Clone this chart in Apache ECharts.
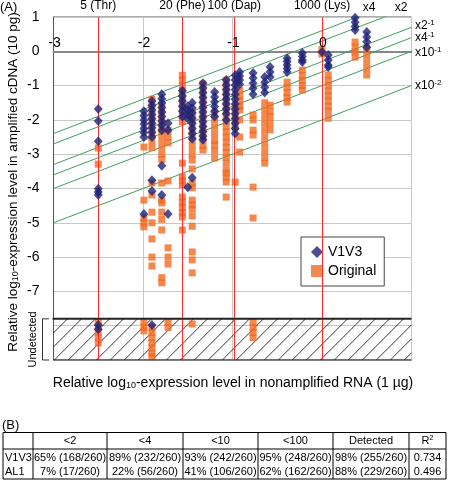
<!DOCTYPE html>
<html><head><meta charset="utf-8">
<script src="https://cdn.jsdelivr.net/npm/echarts@6/dist/echarts.min.js"></script>
<style>html,body{margin:0;padding:0;background:#fff}#c{width:450px;height:481px}</style>
</head><body><div id="c"></div>
<script>
// ---- data ----
const colX = [-2.50,-1.99,-1.90,-1.79,-1.72,-1.56,-1.50,-1.45,-1.33,-1.20,-1.07,-0.97,-0.92,-0.77,-0.64,-0.58,-0.39,-0.22,0.00,0.07,0.37,0.50];
const v1v3Y = [
 [-1.68,-2.03,-2.62,-4.01,-4.10,-4.19,-7.98,-8.10],
 [-1.75,-1.87,-2.0,-2.12,-2.25,-2.37,-2.5,-4.74],
 [-1.45,-1.58,-1.71,-1.84,-1.97,-2.1,-2.23,-2.36,-2.5,-3.76,-4.07,-7.98],
 [-1.25,-1.38,-1.51,-1.64,-1.77,-1.9,-2.03,-2.16,-2.3,-3.34,-4.19],
 [-2.1,-2.3,-4.74],
 [-1.15,-1.3,-1.45,-1.6,-1.75,-1.9],
 [-1.6,-1.72,-1.84,-1.96,-3.96],
 [-1.5,-1.65,-1.8,-1.95,-2.1,-2.25,-2.4,-2.55,-3.69],
 [-0.93,-1.07,-1.21,-1.35,-1.49,-1.63,-1.77,-1.91,-2.05,-2.19,-2.33,-2.47,-2.58],
 [-1.19,-1.33,-1.47,-1.61,-1.75,-1.9],
 [-0.84,-0.98,-1.12,-1.26,-1.4,-1.54,-1.68,-1.82,-2.0],
 [-0.7,-0.84,-0.98,-1.12,-1.26,-1.4,-1.54,-1.68,-1.82,-1.96,-2.1,-2.25,-2.4],
 [-0.6,-0.72,-0.84,-0.96],
 [-0.63,-0.78,-0.93,-1.08,-1.25],
 [-0.75,-0.9,-1.05,-1.2],
 [-0.46,-0.6,-0.75],
 [-0.2,-0.3,-0.4,-0.5,-0.6],
 [-0.05,-0.15,-0.25,-0.31],
 [-0.02],
 [-0.11,-0.25,-0.4,-0.46],
 [0.98,0.85,0.72,0.62],
 [0.56,0.42,0.28,0.12]
];
const originalY = [
 [-2.82,-3.29,-7.9,-8.05,-8.2,-8.35,-8.5],
 [-2.79,-4.34,-4.86,-5.0,-5.12,-7.9,-8.05,-8.15],
 [-1.4,-1.6,-1.8,-2.0,-2.2,-2.4,-2.6,-2.8,-3.84,-4.19,-4.69,-5.0,-5.47,-6.0,-6.26,-8.05,-8.2,-8.35,-8.5,-8.65,-8.8,-8.9],
 [-1.6,-1.8,-2.0,-2.2,-2.4,-2.6,-2.8,-3.0,-3.15,-3.84,-4.34,-4.42,-4.69,-4.9,-5.21,-6.6,-6.75],
 [-2.3,-2.5,-2.67,-3.78,-5.73,-6.0,-6.2,-7.9,-8.05],
 [-0.7,-0.85,-1.0,-1.15,-1.3,-1.45,-1.6,-1.75,-1.9,-2.05,-3.26,-3.66,-3.78,-3.9,-4.25,-4.4,-4.55,-4.7,-4.83,-5.21],
 [],
 [-1.8,-2.0,-2.2,-2.4,-2.6,-2.8,-3.0,-3.17,-3.43,-3.84,-3.98,-4.34,-4.48,-4.6,-4.8,-5.1,-5.85,-6.08,-6.46,-7.95],
 [-0.95,-1.15,-1.35,-1.55,-1.75,-1.95,-2.15,-2.35,-2.55,-2.75,-2.88],
 [-1.8,-2.0,-2.2,-2.4,-2.6,-2.73,-2.9,-3.11],
 [-0.84,-1.0,-1.15,-1.3,-1.45,-1.6,-1.75,-1.9,-2.05,-2.2,-2.35,-2.5,-2.65,-2.8,-2.95,-3.1,-3.26,-3.46,-3.55,-3.67,-3.81,-4.25],
 [-1.62,-1.8,-2.0,-2.2,-3.81],
 [-1.13,-1.3,-1.45,-1.6,-1.71,-2.0,-2.5,-2.94],
 [-1.86,-2.0,-2.3,-2.44,-3.96,-4.86,-7.9,-8.05,-8.2,-8.35],
 [-1.5,-1.7,-1.9,-2.1,-2.3,-2.5,-2.7,-2.9,-3.1,-3.26],
 [-1.57,-1.75,-1.9,-2.1,-2.29],
 [-0.9,-1.05,-1.2,-1.35,-1.48],
 [-0.55,-0.7,-0.85,-1.0,-1.13],
 [0.05,-0.08],
 [-0.69,-0.85,-1.0,-1.15,-1.3,-1.45,-1.6,-1.75,-1.95],
 [0.27,0.12,-0.02,-0.17],
 [0.1,-0.1,-0.3,-0.5,-0.69]
];
const xTickLabels = [-3,-2,-1,0];
const spikeX = [-2.50,-1.56,-0.98,0.00];
const spikeLabels = ['5 (Thr)','20 (Phe)','100 (Dap)','1000 (Lys)'];
const guideOffsets = [0.602,0.301,-0.301,-0.602,-1,-2];
const tableHeader = ['','<2','<4','<10','<100','Detected','R2'];
const tableRows = [
 ['V1V3','65% (168/260)','89% (232/260)','93% (242/260)','95% (248/260)','98% (255/260)','0.734'],
 ['AL1','7% (17/260)','22% (56/260)','41% (106/260)','62% (162/260)','88% (229/260)','0.496']
];
const undetectedTop = -7.8;

// ---- build ----
const FONT = 'Liberation Sans, Arial, sans-serif';
const NAVY = '#1e2277', ORANGE = '#f26a21';
function pts(ys){const out=[];ys.forEach((arr,i)=>arr.forEach(y=>out.push([colX[i],y])));return out;}
const chart = echarts.init(document.getElementById('c'));
const guideSeries = guideOffsets.map(c=>({
  type:'line', data:[[-3,-3+c],[1,1+c]], showSymbol:false, silent:true, clip:true,
  lineStyle:{color:'#3f9e5e',width:1}, z:3, legendHoverLink:false
}));
const option = {
  animation:false,
  textStyle:{fontFamily:FONT},
  grid:{left:53.5,right:38.5,top:17,bottom:121,show:true,borderColor:'#555',borderWidth:1},
  xAxis:{type:'value',min:-3,max:1,interval:1,
    axisLine:{onZero:true,lineStyle:{color:'#888',width:2}},
    axisTick:{show:false},
    axisLabel:{show:false},
    splitLine:{show:true,lineStyle:{color:'#c8c8c8'}}},
  yAxis:{type:'value',min:-9,max:1,interval:1,
    axisLine:{show:true,onZero:false,lineStyle:{color:'#555'}},
    axisTick:{show:false},
    axisLabel:{color:'#000',fontSize:14,margin:14,formatter:v=>v<-7?'':String(v)},
    splitLine:{lineStyle:{color:'#c8c8c8'}}},
  legend:{orient:'vertical',left:301,top:237,padding:[8,8,8,10],itemGap:5,
    backgroundColor:'#fff',borderColor:'#444',borderWidth:1,itemWidth:12,itemHeight:12,
    textStyle:{fontSize:14,color:'#000'},
    data:[{name:'V1V3',icon:'diamond'},{name:'Original',icon:'rect'}]},
  series:[
    ...guideSeries,
    {name:'Original',type:'scatter',symbol:'rect',symbolSize:7,data:pts(originalY),
     itemStyle:{color:ORANGE},z:4,
     markLine:{silent:true,symbol:'none',lineStyle:{color:'#ff2a2a',width:1,type:'solid'},
       label:{show:true,position:'end',distance:5,fontSize:12,color:'#000',formatter:p=>spikeLabels[p.dataIndex]},
       data:spikeX.map(x=>({xAxis:x}))}},
    {name:'V1V3',type:'scatter',symbol:'diamond',symbolSize:[9,10],data:pts(v1v3Y),
     itemStyle:{color:NAVY},z:5}
  ]
};
chart.setOption(option);

// ---- annotations ----
const g = [];
xTickLabels.forEach(v=>{
  const p = chart.convertToPixel({gridIndex:0},[v,0]);
  g.push({type:'text',x:p[0]+1,y:p[1]-8,style:{text:String(v),fontSize:14,fontFamily:FONT,fill:'#000',align:'center',verticalAlign:'middle'},z:7});
});
const L = chart.convertToPixel({gridIndex:0},[-3,undetectedTop]);
const R = chart.convertToPixel({gridIndex:0},[1,-9]);
const x0=L[0], yT=L[1], x1=R[0], yB=R[1], h=yB-yT;
for(let xb=x0-h; xb<x1; xb+=14){
  let sx=xb, sy=yB, ex=xb+h, ey=yT;
  if(sx<x0){sy=yB-(x0-sx); sx=x0;}
  if(ex>x1){ey=yT+(ex-x1); ex=x1;}
  g.push({type:'line',shape:{x1:sx,y1:sy,x2:ex,y2:ey},style:{stroke:'#000',lineWidth:0.8},z:1,silent:true});
}
g.push({type:'line',shape:{x1:x0-1,y1:yT,x2:x1,y2:yT},style:{stroke:'#222',lineWidth:2},z:6});
g.push({type:'line',shape:{x1:x0,y1:yB,x2:x1,y2:yB},style:{stroke:'#333',lineWidth:1},z:6});
// bracket
g.push({type:'polyline',shape:{points:[[49,yT],[42.5,yT],[42.5,yB],[49,yB]]},style:{stroke:'#333',lineWidth:1,fill:null},z:6});
g.push({type:'text',x:33,y:(yT+yB)/2,rotation:Math.PI/2,style:{text:'Undetected',fontSize:11,fontFamily:FONT,fill:'#000',align:'center',verticalAlign:'middle'}});
// axis titles
g.push({type:'text',x:13,y:182,rotation:Math.PI/2,style:{
  text:'Relative log{s|10}-expression level in amplified cDNA (10 pg)',align:'center',verticalAlign:'middle',
  fontSize:13.5,fontFamily:FONT,fill:'#000',rich:{s:{fontSize:9,verticalAlign:'bottom',padding:[6,0,0,0],fontFamily:FONT}}}});
g.push({type:'text',x:233,y:383,style:{
  text:'Relative log{s|10}-expression level in nonamplified RNA (1 µg)',align:'center',verticalAlign:'middle',
  fontSize:14,fontFamily:FONT,fill:'#000',rich:{s:{fontSize:9,verticalAlign:'bottom',padding:[6,0,0,0],fontFamily:FONT}}}});
g.push({type:'text',x:0,y:7,style:{text:'(A)',fontSize:13,fontFamily:FONT,fill:'#000',verticalAlign:'middle'}});
g.push({type:'text',x:2,y:425,style:{text:'(B)',fontSize:13,fontFamily:FONT,fill:'#000',verticalAlign:'middle'}});
// guide labels
const supRich={a:{fontSize:12,fontFamily:FONT},s:{fontSize:8,verticalAlign:'top',padding:[0,0,6,0],fontFamily:FONT}};
[['x4',369,8],['x2',401,8]].forEach(t=>g.push({type:'text',x:t[1],y:t[2],style:{text:t[0],fontSize:12,fontFamily:FONT,fill:'#000',align:'center',verticalAlign:'middle'}}));
[['{a|x2}{s|-1}',26],['{a|x4}{s|-1}',38],['{a|x10}{s|-1}',53],['{a|x10}{s|-2}',86]].forEach(t=>g.push({type:'text',x:415,y:t[1],style:{text:t[0],rich:supRich,fill:'#000',verticalAlign:'middle'}}));
// table
const colB=[3,33,107,183,258,333,409,446];
const tT=432.5, tH=449, tB=479;
g.push({type:'rect',shape:{x:colB[0],y:tT,width:colB[7]-colB[0],height:tB-tT},style:{fill:null,stroke:'#000',lineWidth:1}});
g.push({type:'line',shape:{x1:colB[0],y1:tH,x2:colB[7],y2:tH},style:{stroke:'#000',lineWidth:1}});
for(let i=1;i<7;i++) g.push({type:'line',shape:{x1:colB[i],y1:tT,x2:colB[i],y2:tB},style:{stroke:'#000',lineWidth:1}});
tableHeader.forEach((t,i)=>{
  const txt = t==='R2' ? 'R{s|2}' : t;
  g.push({type:'text',x:(colB[i]+colB[i+1])/2,y:441,style:{text:txt,fontSize:11,fontFamily:FONT,fill:'#000',align:'center',verticalAlign:'middle',
    rich:{s:{fontSize:7,verticalAlign:'top',padding:[0,0,5,0],fontFamily:FONT}}}});
});
tableRows.forEach((row,r)=>{
  const yy = r===0?458:471.5;
  row.forEach((t,i)=>{
    if(i===0) g.push({type:'text',x:colB[0]+2,y:yy,style:{text:t,fontSize:11,fontFamily:FONT,fill:'#000',verticalAlign:'middle'}});
    else g.push({type:'text',x:(colB[i]+colB[i+1])/2,y:yy,style:{text:t,fontSize:11,fontFamily:FONT,fill:'#000',align:'center',verticalAlign:'middle'}});
  });
});
chart.setOption({graphic:g});
</script></body></html>
